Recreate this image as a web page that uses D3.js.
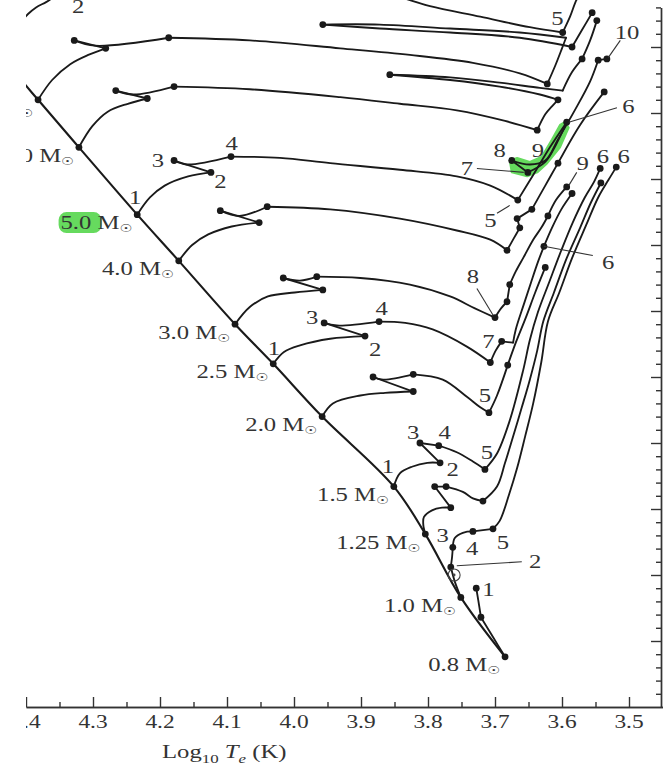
<!DOCTYPE html>
<html><head><meta charset="utf-8">
<script src="https://cdn.jsdelivr.net/npm/d3@7"></script>
<style>body{margin:0;background:#fff}svg{display:block}</style>
</head><body><svg id="c" width="669" height="767"></svg>
<script>
// ---------- data (log10 Te, log10 L/Lsun) ----------
const xMajor = [4.4,4.3,4.2,4.1,4.0,3.9,3.8,3.7,3.6,3.5];
const xMajorLabels = ["4.4","4.3","4.2","4.1","4.0","3.9","3.8","3.7","3.6","3.5"];
const xMinor = [4.35,4.25,4.15,4.05,3.95,3.85,3.75,3.65,3.55];
const yMajor = [-0.5,0,0.5,1,1.5,2,2.5,3,3.5,4];
const yMinor = [-0.9,-0.8,-0.7,-0.6,-0.4,-0.3,-0.2,-0.1,0.1,0.2,0.3,0.4,0.6,0.7,0.8,0.9,1.1,1.2,1.3,1.4,1.6,1.7,1.8,1.9,2.1,2.2,2.3,2.4,2.6,2.7,2.8,2.9,3.1,3.2,3.3,3.4,3.6,3.7,3.8,3.9,4.1,4.2,4.3];

const zamsLine = [[4.409,3.76],[4.382,3.60],[4.321,3.24],[4.234,2.73],[4.172,2.38],[4.088,1.90],[4.031,1.60],[3.958,1.20],[3.851,0.67],[3.804,0.31],[3.751,-0.17],[3.685,-0.62]];
const zamsMasses = ["9.0","7.0","5.0","4.0","3.0","2.5","2.0","1.5","1.25","1.0","0.8"];
const zamsPoints = [[4.382,3.60],[4.321,3.24],[4.234,2.73],[4.172,2.38],[4.088,1.90],[4.031,1.60],[3.958,1.20],[3.851,0.67],[3.804,0.31],[3.751,-0.17],[3.685,-0.62]];

const track15 = [
  [[4.406,4.20],[4.397,4.25],[4.385,4.30],[4.370,4.34],[4.361,4.37]],
  [[3.842,4.38],[3.797,4.31],[3.722,4.23],[3.648,4.15],[3.599,4.11]],
  [[3.599,4.11],[3.588,4.23],[3.578,4.36],[3.573,4.39]]
];
const dots15 = [[3.599,4.11]];

const track9 = [
  [[4.382,3.60],[4.361,3.75],[4.334,3.87],[4.307,3.94],[4.281,3.99]],
  [[4.281,3.99],[4.328,4.05]],
  [[4.328,4.05],[4.297,4.01],[4.187,4.07]],
  [[4.187,4.07],[4.066,4.05],[3.931,3.99],[3.827,3.94],[3.733,3.88],[3.663,3.80],[3.622,3.72]],
  [[3.622,3.72],[3.610,3.86],[3.600,3.99],[3.594,4.07]],
  [[3.594,4.07],[3.663,4.11],[3.767,4.14],[3.872,4.17],[3.957,4.17]],
  [[3.957,4.17],[3.872,4.14],[3.767,4.11],[3.663,4.07],[3.585,4.00]],
  [[3.585,4.00],[3.570,4.13],[3.555,4.26]]
];
const dots9 = [[4.281,3.99],[4.328,4.05],[4.187,4.07],[3.622,3.72],[3.957,4.17],[3.585,4.00],[3.555,4.26]];

const track7 = [
  [[4.321,3.24],[4.301,3.40],[4.278,3.51],[4.248,3.57],[4.219,3.61]],
  [[4.219,3.61],[4.266,3.67]],
  [[4.266,3.67],[4.240,3.64],[4.179,3.70]],
  [[4.179,3.70],[4.066,3.68],[3.931,3.62],[3.842,3.57],[3.757,3.52],[3.685,3.44],[3.637,3.37]],
  [[3.637,3.37],[3.625,3.49],[3.615,3.55],[3.606,3.60]],
  [[3.606,3.60],[3.633,3.64],[3.693,3.70],[3.767,3.75],[3.857,3.79]],
  [[3.857,3.79],[3.767,3.77],[3.693,3.73],[3.633,3.69],[3.599,3.67]],
  [[3.599,3.67],[3.585,3.81],[3.570,3.91]],
  [[3.570,3.91],[3.558,4.05],[3.548,4.20]]
];
const dots7 = [[4.219,3.61],[4.266,3.67],[4.179,3.70],[3.637,3.37],[3.606,3.60],[3.857,3.79],[3.570,3.91],[3.548,4.20]];

const track5 = [
  [[4.234,2.73],[4.215,2.86],[4.193,2.95],[4.158,3.02],[4.124,3.05]],
  [[4.124,3.05],[4.179,3.14]],
  [[4.179,3.14],[4.160,3.11],[4.094,3.17]],
  [[4.094,3.17],[4.021,3.16],[3.946,3.12],[3.842,3.07],[3.757,3.02],[3.707,2.95],[3.666,2.84]],
  [[3.666,2.84],[3.643,3.03],[3.618,3.24],[3.593,3.43]],
  [[3.593,3.43],[3.609,3.26],[3.625,3.13],[3.651,3.05]],
  [[3.651,3.05],[3.675,3.14]],
  [[3.675,3.14],[3.648,3.11],[3.625,3.14],[3.606,3.30],[3.581,3.52],[3.558,3.74],[3.546,3.90]],
  [[3.546,3.90],[3.533,3.91]]
];
const dots5 = [[4.124,3.05],[4.179,3.14],[4.094,3.17],[3.666,2.84],[3.593,3.43],[3.651,3.05],[3.675,3.14],[3.546,3.90],[3.533,3.91]];

const track4 = [
  [[4.172,2.38],[4.152,2.50],[4.128,2.58],[4.093,2.64],[4.052,2.67]],
  [[4.052,2.67],[4.110,2.76]],
  [[4.110,2.76],[4.081,2.72],[4.040,2.79]],
  [[4.040,2.79],[3.946,2.77],[3.842,2.70],[3.757,2.61],[3.707,2.54],[3.682,2.46]],
  [[3.682,2.46],[3.672,2.55],[3.663,2.63]],
  [[3.663,2.63],[3.667,2.70]],
  [[3.667,2.70],[3.645,2.77]],
  [[3.645,2.77],[3.625,2.95],[3.606,3.12]],
  [[3.606,3.12],[3.573,3.41],[3.537,3.66]]
];
const dots4 = [[4.052,2.67],[4.110,2.76],[4.040,2.79],[3.682,2.46],[3.663,2.63],[3.667,2.70],[3.645,2.77],[3.606,3.12],[3.537,3.66]];

const track3 = [
  [[4.088,1.90],[4.066,2.03],[4.039,2.11],[3.999,2.14],[3.957,2.16]],
  [[3.957,2.16],[4.016,2.25]],
  [[4.016,2.25],[3.991,2.23],[3.966,2.26]],
  [[3.966,2.26],[3.901,2.25],[3.827,2.20],[3.767,2.11],[3.730,2.02],[3.700,1.95]],
  [[3.700,1.95],[3.691,2.02],[3.682,2.07]],
  [[3.682,2.07],[3.678,2.20]],
  [[3.678,2.20],[3.669,2.30],[3.657,2.41],[3.643,2.54],[3.631,2.63],[3.621,2.72]],
  [[3.621,2.72],[3.609,2.84],[3.593,2.94]]
];
const dots3 = [[3.957,2.16],[4.016,2.25],[3.966,2.26],[3.700,1.95],[3.682,2.07],[3.678,2.20],[3.621,2.72],[3.593,2.94]];

const track25 = [
  [[4.031,1.60],[4.015,1.69],[3.991,1.74],[3.946,1.79],[3.894,1.81]],
  [[3.894,1.81],[3.955,1.91]],
  [[3.955,1.91],[3.936,1.89],[3.873,1.92]],
  [[3.873,1.92],[3.834,1.91],[3.793,1.86],[3.742,1.73],[3.707,1.61]],
  [[3.707,1.61],[3.699,1.70],[3.690,1.77]],
  [[3.690,1.77],[3.673,1.76]],
  [[3.673,1.76],[3.669,1.86],[3.657,2.05],[3.646,2.22],[3.636,2.37],[3.627,2.49]],
  [[3.627,2.49],[3.615,2.63],[3.601,2.77],[3.585,2.89]]
];
const dots25 = [[3.894,1.81],[3.955,1.91],[3.873,1.92],[3.707,1.61],[3.690,1.77],[3.627,2.49],[3.585,2.89]];

const track2 = [
  [[3.958,1.20],[3.942,1.30],[3.901,1.36],[3.864,1.38],[3.822,1.39]],
  [[3.822,1.39],[3.882,1.50]],
  [[3.882,1.50],[3.867,1.48],[3.822,1.52]],
  [[3.822,1.52],[3.778,1.48],[3.742,1.35],[3.722,1.27],[3.709,1.23]],
  [[3.709,1.23],[3.697,1.36],[3.681,1.59]],
  [[3.681,1.59],[3.669,1.76],[3.654,1.95],[3.640,2.14],[3.625,2.33]]
];
const dots2 = [[3.822,1.39],[3.882,1.50],[3.822,1.52],[3.709,1.23],[3.681,1.59],[3.625,2.33]];

const track15m = [
  [[3.851,0.67],[3.842,0.77],[3.824,0.82],[3.801,0.85],[3.782,0.85]],
  [[3.782,0.85],[3.812,1.00]],
  [[3.812,1.00],[3.784,0.98]],
  [[3.784,0.98],[3.757,0.93],[3.733,0.86],[3.715,0.80]],
  [[3.715,0.80],[3.697,0.92],[3.678,1.17],[3.658,1.55],[3.648,1.78],[3.636,1.99],[3.619,2.22],[3.601,2.46],[3.584,2.67],[3.566,2.86],[3.552,2.98],[3.543,3.08]]
];
const dots15m = [[3.782,0.85],[3.812,1.00],[3.784,0.98],[3.715,0.80],[3.543,3.08]];

const track125 = [
  [[3.804,0.31],[3.807,0.38],[3.806,0.44],[3.794,0.49],[3.779,0.51],[3.766,0.51]],
  [[3.766,0.51],[3.790,0.67]],
  [[3.790,0.67],[3.773,0.67]],
  [[3.773,0.67],[3.748,0.63],[3.733,0.58],[3.718,0.56]],
  [[3.718,0.56],[3.697,0.67],[3.685,0.85],[3.673,1.05],[3.660,1.27],[3.648,1.48],[3.637,1.70],[3.628,1.92],[3.612,2.14],[3.593,2.40],[3.573,2.63],[3.557,2.82],[3.542,2.97]]
];
const dots125 = [[3.766,0.51],[3.790,0.67],[3.773,0.67],[3.718,0.56],[3.542,2.97]];

const track1 = [
  [[3.751,-0.17],[3.760,-0.05],[3.766,0.06]],
  [[3.766,0.06],[3.764,0.14],[3.763,0.21]],
  [[3.763,0.21],[3.760,0.28],[3.748,0.32],[3.733,0.33]],
  [[3.733,0.33],[3.703,0.35]],
  [[3.703,0.35],[3.693,0.41],[3.679,0.61],[3.667,0.81],[3.655,1.05],[3.643,1.30],[3.631,1.61],[3.621,1.92],[3.604,2.14],[3.585,2.40],[3.564,2.65],[3.546,2.86],[3.531,2.99],[3.519,3.09]]
];
const dots1 = [[3.766,0.06],[3.763,0.21],[3.733,0.33],[3.703,0.35],[3.519,3.09]];

const track08 = [
  [[3.685,-0.62],[3.703,-0.47],[3.721,-0.32]],
  [[3.721,-0.32],[3.725,-0.19],[3.728,-0.10]]
];
const dots08 = [[3.721,-0.32],[3.728,-0.10]];

const sunPoint = [3.761, 0.00];

const phaseLabels = [
  ["2",4.322,4.31],
  ["1",4.237,2.86],["2",4.110,2.98],["3",4.203,3.14],["4",4.093,3.27],
  ["1",4.030,1.72],["2",3.879,1.71],["3",3.973,1.95],["4",3.869,2.02],
  ["7",3.710,1.77],["5",3.715,1.36],["8",3.733,2.26],
  ["1",3.860,0.82],["2",3.763,0.80],["3",3.822,1.08],["4",3.775,1.08],["5",3.712,0.93],
  ["3",3.778,0.30],["4",3.734,0.20],["5",3.688,0.25],["2",3.640,0.10],["1",3.710,-0.11],
  ["5",3.707,2.69],["8",3.693,3.22],["9",3.636,3.22],["7",3.742,3.08],["6",3.501,3.55],
  ["10",3.503,4.11],["9",3.569,3.12],["6",3.539,3.17],["6",3.508,3.17],["6",3.531,2.37],["5",3.607,4.22]
];
const leaders = [
  [[3.727,2.17],[3.703,1.97]],
  [[3.757,0.07],[3.660,0.10]],
  [[3.697,2.74],[3.678,2.80]],
  [[3.727,3.08],[3.657,3.05]],
  [[3.590,3.43],[3.518,3.54]],
  [[3.531,3.92],[3.513,4.05]],
  [[3.578,3.05],[3.590,2.95]],
  [[3.627,2.49],[3.554,2.42]]
];

const highlightLabel = [4.320, 2.67];
const highlightTrack = [[3.596,3.43],[3.590,3.39],[3.603,3.24],[3.622,3.12],[3.637,3.05],[3.652,3.02],[3.675,3.05],[3.678,3.14],[3.667,3.16],[3.648,3.13],[3.630,3.17],[3.615,3.30],[3.603,3.41]];

// ---------- drawing ----------
const W = 669, H = 767, SX = 1.3;
const INK = "#1a1a1a", TXT = "#333";
const FONT = "'Liberation Serif','Times New Roman',serif";
const svg = d3.select("#c");
const x = d3.scaleLinear().domain([4.4, 3.45]).range([26, 662.5]);
const y = d3.scaleLinear().domain([-1, 4.3]).range([707, 7.4]);

svg.append("defs").append("clipPath").attr("id","clip")
  .append("rect").attr("x",26).attr("y",0).attr("width",W-26).attr("height",H);
const root = svg.append("g").attr("clip-path","url(#clip)");

const curve = d3.line().x(d=>x(d[0])).y(d=>y(d[1])).curve(d3.curveCatmullRom.alpha(0.5));
const straight = d3.line().x(d=>x(d[0])).y(d=>y(d[1]));

// green highlighter marks
root.append("rect")
  .attr("x", x(highlightLabel[0]) - 21).attr("y", y(highlightLabel[1]) - 10.5)
  .attr("width", 43).attr("height", 21).attr("rx", 8)
  .attr("fill", "#66da5e");
root.append("path").attr("d", straight(highlightTrack) + "Z")
  .attr("fill", "#66da5e").attr("stroke", "#66da5e").attr("stroke-width", 2).attr("stroke-linejoin","round");

// ZAMS
root.append("path").attr("d", curve(zamsLine)).attr("fill","none")
  .attr("stroke", INK).attr("stroke-width", 2.1);

const tracks = [
  [track15, dots15],[track9, dots9],[track7, dots7],[track5, dots5],[track4, dots4],
  [track3, dots3],[track25, dots25],[track2, dots2],[track15m, dots15m],
  [track125, dots125],[track1, dots1],[track08, dots08]
];
const gT = root.append("g").attr("fill","none").attr("stroke", INK).attr("stroke-width", 1.85)
  .attr("stroke-linejoin","round").attr("stroke-linecap","round");
tracks.forEach(([segs]) => segs.forEach(s => gT.append("path").attr("d", curve(s))));

// dots
const gD = root.append("g").attr("fill", INK);
const allDots = zamsPoints.concat(...tracks.map(t => t[1]));
gD.selectAll("circle").data(allDots).join("circle")
  .attr("cx", d=>x(d[0])).attr("cy", d=>y(d[1])).attr("r", 3.4);

// sun symbol
root.append("circle").attr("cx", x(sunPoint[0])).attr("cy", y(sunPoint[1])).attr("r", 6)
  .attr("fill","none").attr("stroke","#444").attr("stroke-width",1.1);
root.append("circle").attr("cx", x(sunPoint[0])).attr("cy", y(sunPoint[1])).attr("r", 1.4).attr("fill","#444");

// leader lines
const gL = root.append("g").attr("stroke","#333").attr("stroke-width",1.1);
leaders.forEach(l => gL.append("path").attr("d", straight(l)));

function stext(px, py, anchor, size) {
  return root.append("text")
    .attr("transform", `translate(${px},${py}) scale(${SX},1)`)
    .attr("text-anchor", anchor).attr("font-family", FONT)
    .attr("font-size", size).attr("fill", TXT);
}

// phase number labels
phaseLabels.forEach(([t, T, L]) => {
  stext(x(T), y(L) + 6.6, "middle", 19).text(t);
});

// ZAMS mass labels
zamsPoints.forEach((p, i) => {
  const t = stext(x(p[0]) - 5, y(p[1]) + 14.5, "end", 19);
  t.append("tspan").text(zamsMasses[i] + " M");
  t.append("tspan").attr("font-size", 11).attr("dy", 3)
    .attr("font-family","'DejaVu Sans',sans-serif").text("\u2609");
});

// axes
const gAx = root.append("g");
const bottomMajor = d3.axisBottom(x).tickValues(xMajor).tickSizeInner(-10).tickSizeOuter(0).tickFormat("");
const bottomMinor = d3.axisBottom(x).tickValues(xMinor).tickSizeInner(-5).tickSizeOuter(0).tickFormat("");
const rightMajor = d3.axisLeft(y).tickValues(yMajor).tickSizeInner(10).tickSizeOuter(0).tickFormat("");
const rightMinor = d3.axisLeft(y).tickValues(yMinor).tickSizeInner(5).tickSizeOuter(0).tickFormat("");
[[bottomMajor, `translate(0,707)`],[bottomMinor, `translate(0,707)`],
 [rightMajor, `translate(661,0)`],[rightMinor, `translate(661,0)`]].forEach(([ax, tr]) => {
  const g = gAx.append("g").attr("transform", tr).call(ax);
  g.selectAll("path,line").attr("stroke", "#333").attr("stroke-width", 1.4);
});

xMajor.forEach((v, i) => {
  stext(x(v), 728, "middle", 18).text(xMajorLabels[i]);
});

// axis title
const title = stext(162, 758, "start", 19);
title.append("tspan").text("Log");
title.append("tspan").attr("font-size", 13).attr("dy", 5).text("10");
title.append("tspan").attr("dy", -5).text(" ");
title.append("tspan").attr("font-style","italic").text("T");
title.append("tspan").attr("font-style","italic").attr("font-size", 13).attr("dy", 5).text("e");
title.append("tspan").attr("dy", -5).text(" (K)");
</script></body></html>
